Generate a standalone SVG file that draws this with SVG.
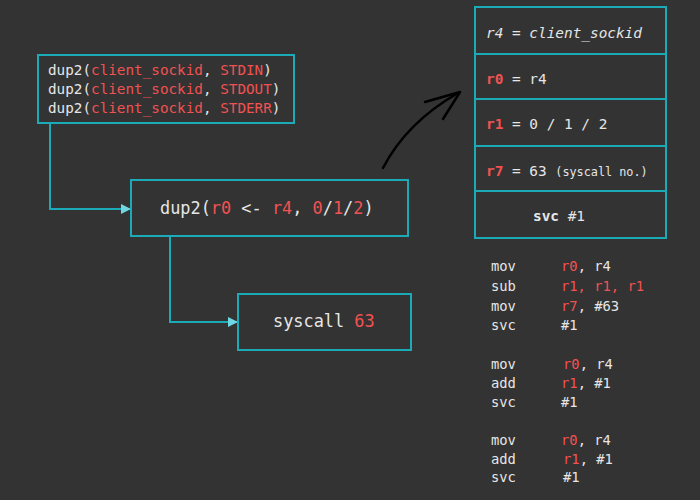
<svg xmlns="http://www.w3.org/2000/svg" width="700" height="500" viewBox="0 0 700 500">
<style>
.box{fill:#333333;stroke:#1aaab8;stroke-width:2}
.t{font-family:"DejaVu Sans Mono","Liberation Mono",monospace;fill:#e6e6e6}
.r{fill:#f05252}
.b{font-weight:bold}
.c{fill:none;stroke:#1aaab8;stroke-width:2}
</style>
<defs>
<marker id="ah" viewBox="0 0 10 10" refX="9" refY="5" markerWidth="10" markerHeight="10" orient="auto" markerUnits="userSpaceOnUse">
<path d="M0,0 L10,5 L0,10 Z" fill="#6fd6e2"/>
</marker>
</defs>
<rect width="700" height="500" fill="#333333"/>
<g id="connectors">
<path class="c" d="M50,123 V209 H130" marker-end="url(#ah)"/>
<path class="c" d="M170,236 V322 H237" marker-end="url(#ah)"/>
<path d="M383,168 C400,135 425,112 458,93" fill="none" stroke="#000" stroke-width="2.5" stroke-linecap="round"/>
<path d="M425,102 L460,92 L443,119" fill="none" stroke="#000" stroke-width="2.5" stroke-linecap="round" stroke-linejoin="round"/>
</g>
<g id="dup2calls">
<rect class="box" x="38" y="55" width="256" height="68"/>
<text class="t" x="48" y="75" font-size="14.3">dup2(<tspan class="r">client_sockid</tspan>, <tspan class="r">STDIN</tspan>)</text>
<text class="t" x="48" y="94" font-size="14.3">dup2(<tspan class="r">client_sockid</tspan>, <tspan class="r">STDOUT</tspan>)</text>
<text class="t" x="48" y="113" font-size="14.3">dup2(<tspan class="r">client_sockid</tspan>, <tspan class="r">STDERR</tspan>)</text>
</g>
<g id="dup2">
<rect class="box" x="131" y="180" width="277" height="56"/>
<text class="t" x="160" y="214" font-size="16.9">dup2(<tspan class="r">r0</tspan> &lt;- <tspan class="r">r4</tspan>, <tspan class="r">0</tspan>/<tspan class="r">1</tspan>/<tspan class="r">2</tspan>)</text>
</g>
<g id="syscall">
<rect class="box" x="238" y="294" width="173" height="56"/>
<text class="t" x="273" y="327" font-size="16.9">syscall <tspan class="r">63</tspan></text>
</g>
<g id="registers">
<rect class="box" x="475" y="7" width="191" height="47"/>
<rect class="box" x="475" y="54" width="191" height="45"/>
<rect class="box" x="475" y="99" width="191" height="47"/>
<rect class="box" x="475" y="146" width="191" height="45"/>
<rect class="box" x="475" y="191" width="191" height="47"/>
<text class="t" x="486" y="38" font-size="14.4" font-style="italic">r4 = client_sockid</text>
<text class="t" x="486" y="84" font-size="14.4"><tspan class="r b">r0</tspan> = r4</text>
<text class="t" x="486" y="129" font-size="14.4"><tspan class="r b">r1</tspan> = 0 / 1 / 2</text>
<text class="t" x="486" y="176" font-size="14.4"><tspan class="r b">r7</tspan> = 63 <tspan font-size="11.8">(syscall no.)</tspan></text>
<text class="t" x="533" y="221" font-size="14.4"><tspan class="b">svc</tspan> #1</text>
</g>
<g id="assembly">
<text class="t" x="491" y="271" font-size="13.8">mov</text><text class="t" x="561" y="271" font-size="13.8"><tspan class="r">r0</tspan>, r4</text>
<text class="t" x="491" y="291" font-size="13.8">sub</text><text class="t" x="561" y="291" font-size="13.8"><tspan class="r">r1, r1, r1</tspan></text>
<text class="t" x="491" y="311" font-size="13.8">mov</text><text class="t" x="561" y="311" font-size="13.8"><tspan class="r">r7</tspan>, #63</text>
<text class="t" x="491" y="330" font-size="13.8">svc</text><text class="t" x="561" y="330" font-size="13.8">#1</text>
<text class="t" x="491" y="369" font-size="13.8">mov</text><text class="t" x="563" y="369" font-size="13.8"><tspan class="r">r0</tspan>, r4</text>
<text class="t" x="491" y="388" font-size="13.8">add</text><text class="t" x="561" y="388" font-size="13.8"><tspan class="r">r1</tspan>, #1</text>
<text class="t" x="491" y="407" font-size="13.8">svc</text><text class="t" x="561" y="407" font-size="13.8">#1</text>
<text class="t" x="491" y="445" font-size="13.8">mov</text><text class="t" x="561" y="445" font-size="13.8"><tspan class="r">r0</tspan>, r4</text>
<text class="t" x="491" y="464" font-size="13.8">add</text><text class="t" x="563" y="464" font-size="13.8"><tspan class="r">r1</tspan>, #1</text>
<text class="t" x="491" y="482" font-size="13.8">svc</text><text class="t" x="563" y="482" font-size="13.8">#1</text>
</g>
</svg>
